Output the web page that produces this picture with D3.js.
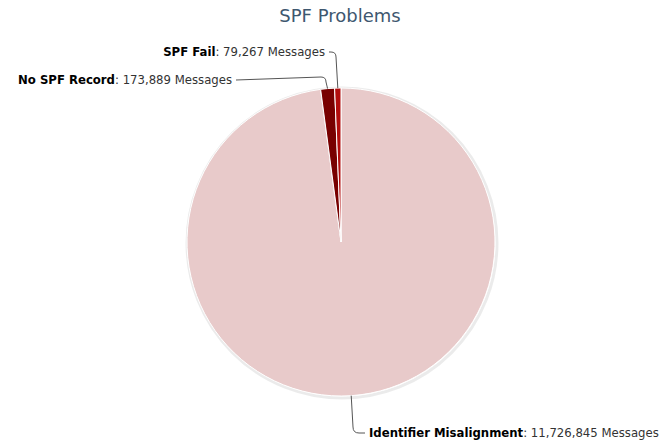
<!DOCTYPE html>
<html>
<head>
<meta charset="utf-8">
<script src="https://cdn.jsdelivr.net/npm/d3@7"></script>
<style>
  body { margin: 0; background: #fff; }
  text { font-family: "DejaVu Sans", Verdana, sans-serif; }
</style>
</head>
<body>
<script>
'use strict';

// chart data
let categories = ["Identifier Misalignment", "No SPF Record", "SPF Fail"];
let messages = [11726845, 173889, 79267];
let sliceColors = ["#e8caca", "#780000", "#b20d0d"];

// label placement (layout only)
let labelLayout = [
  { side: "right", x: 369, y: 433, elbowX: 353 },
  { side: "left",  x: 232, y: 80,  elbowX: 326, elbowY: 77 },
  { side: "left",  x: 325, y: 52,  elbowX: 336 }
];

let width = 661, height = 444;
let cx = 341, cy = 242, radius = 154;

let svg = d3.select("body").append("svg")
  .attr("width", width)
  .attr("height", height);

// title
svg.append("text")
  .attr("x", 340)
  .attr("y", 22)
  .attr("text-anchor", "middle")
  .style("font-size", "18px")
  .attr("fill", "#3e576f")
  .text("SPF Problems");

let pie = d3.pie().sort(null).value(d => d.value);
let arcs = pie(categories.map((c, i) => ({ name: c, value: messages[i], color: sliceColors[i] })));
let arc = d3.arc().innerRadius(0).outerRadius(radius);

let g = svg.append("g").attr("transform", `translate(${cx},${cy})`);

// soft shadow ring
g.append("circle")
  .attr("cx", 1).attr("cy", 1)
  .attr("r", radius + 1)
  .attr("fill", "none")
  .attr("stroke", "rgba(0,0,0,0.08)")
  .attr("stroke-width", 3);

g.selectAll("path.slice")
  .data(arcs)
  .enter()
  .append("path")
  .attr("class", "slice")
  .attr("d", arc)
  .attr("fill", d => d.data.color)
  .attr("stroke", "#fff")
  .attr("stroke-width", 1)
  .attr("stroke-linejoin", "round");

// connectors and labels
let fmt = d3.format(",");
arcs.forEach((d, i) => {
  let lay = labelLayout[i];
  let mid = (d.startAngle + d.endAngle) / 2;
  let ex = cx + radius * Math.sin(mid);
  let ey = cy - radius * Math.cos(mid);
  let ly = lay.elbowY !== undefined ? lay.elbowY : lay.y;
  let p;
  if (lay.side === "right") {
    p = `M${ex},${ey} L${lay.elbowX},${ly - 6} Q${lay.elbowX},${ly} ${lay.elbowX + 6},${ly} L${lay.x - 4},${lay.y}`;
  } else {
    let dir = ly < ey ? 1 : -1;
    p = `M${ex},${ey} L${lay.elbowX},${ly + 5 * dir} Q${lay.elbowX},${ly} ${lay.elbowX - 5},${ly} L${lay.x + 4},${lay.y}`;
  }
  svg.append("path")
    .attr("d", p)
    .attr("fill", "none")
    .attr("stroke", "#555")
    .attr("stroke-width", 1);

  let t = svg.append("text")
    .attr("x", lay.x)
    .attr("y", lay.y + 4)
    .attr("text-anchor", lay.side === "right" ? "start" : "end")
    .style("font-size", "11.7px")
    .attr("fill", "#333");
  t.append("tspan").attr("font-weight", "bold").attr("fill", "#000").text(d.data.name);
  t.append("tspan").text(": " + fmt(d.data.value) + " Messages");
});
</script>
</body>
</html>
